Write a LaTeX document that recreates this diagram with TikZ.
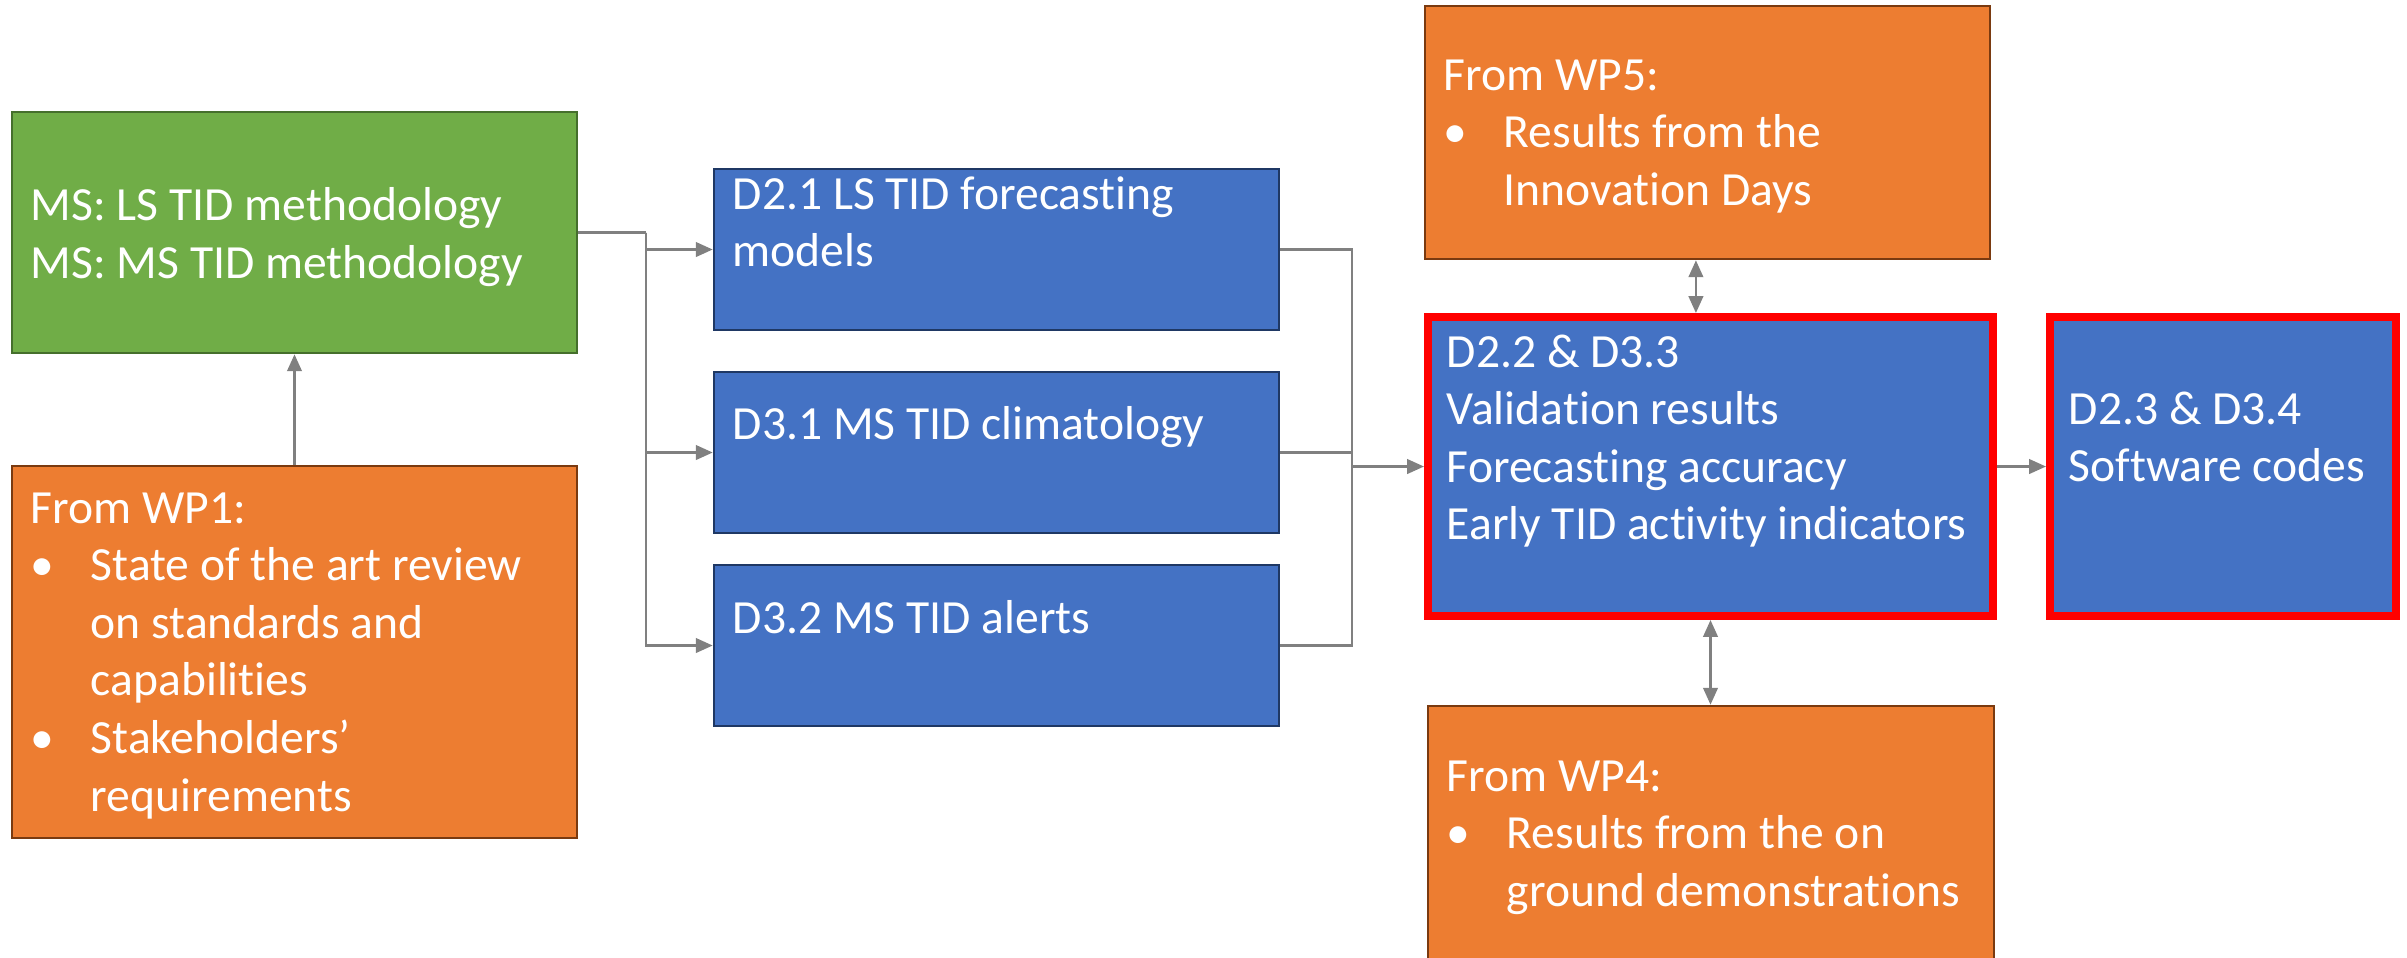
\documentclass[tikz,border=0pt]{standalone}
\usepackage{fontspec}
\setmainfont{Carlito}[Ligatures=CommonOff]
\usetikzlibrary{arrows.meta}

\definecolor{boxgreen}{HTML}{70AD47}
\definecolor{greenline}{HTML}{456F2C}
\definecolor{boxorange}{HTML}{ED7D31}
\definecolor{orangeline}{HTML}{7A3A10}
\definecolor{boxblue}{HTML}{4472C4}
\definecolor{blueline}{HTML}{1F3864}
\definecolor{hilite}{HTML}{FF0000}
\definecolor{wirecol}{HTML}{808080}

% bullet with hanging indent, continuation indent, and a top-aligned block of lines
\newcommand\bul{\makebox[15pt][l]{\textbullet}}
\newcommand\ind{\hspace*{15pt}}
\newcommand\lines[1]{\begin{tabular}[t]{@{}l@{}}#1\end{tabular}}

\begin{document}
\begin{tikzpicture}[x=0.25pt,y=-0.25pt,
  box/.style={rectangle, draw, line width=0.65pt, inner sep=0pt},
  gbox/.style={box, fill=boxgreen, draw=greenline},
  obox/.style={box, fill=boxorange, draw=orangeline},
  bbox/.style={box, fill=boxblue, draw=blueline},
  rbox/.style={box, fill=boxblue, draw=hilite, line width=2pt},
  txt/.style={anchor=base west, inner sep=0pt, text=white,
              font=\fontsize{11.9pt}{14.4pt}\selectfont},
  conn/.style={draw=wirecol, line width=0.65pt},
  arr/.style={conn, -{Triangle[length=4.2pt,width=3.6pt]}},
  darr/.style={conn, {Triangle[length=4.2pt,width=3.6pt]}-{Triangle[length=4.2pt,width=3.6pt]}},
]
\clip (0,0) rectangle (2407,957);
\fill[white] (0,0) rectangle (2407,957);

% boxes
\node[gbox, minimum width=141.25pt, minimum height=60.25pt] (green) at (294.5,232.5) {};
\node[obox, minimum width=141.25pt, minimum height=93pt]    (wp1)   at (294.5,652) {};
\node[bbox, minimum width=141.25pt, minimum height=40.25pt] (d21)   at (996.5,249.5) {};
\node[bbox, minimum width=141.25pt, minimum height=40.25pt] (d31)   at (996.5,452.5) {};
\node[bbox, minimum width=141.25pt, minimum height=40.25pt] (d32)   at (996.5,645.5) {};
\node[obox, minimum width=141.25pt, minimum height=63.25pt] (wp5)   at (1707.5,132.5) {};
\node[rbox, minimum width=141.25pt, minimum height=74.75pt] (d22)   at (1710.5,466.5) {};
\node[rbox, minimum width=86.5pt,   minimum height=74.75pt] (d23)   at (2223,466.5) {};
\node[obox, minimum width=141.5pt,  minimum height=73.5pt]  (wp4)   at (1711,853) {};

% texts
\node[txt] (tgreen) at (30,220.7) {\lines{MS: LS TID methodology\\ MS: MS TID methodology}};
\node[txt] (twp1) at (30,523) {\lines{From WP1:\\ \bul State of the art review\\ \ind on standards and\\ \ind capabilities\\ \bul Stakeholders’\\ \ind requirements}};
\node[txt] (td21) at (732,209) {\lines{D2.1 LS TID forecasting\\ models}};
\node[txt] (td31) at (732,439.5) {\lines{D3.1 MS TID climatology}};
\node[txt] (td32) at (732,633) {\lines{D3.2 MS TID alerts}};
\node[txt] (twp5) at (1443,90) {\lines{From WP5:\\ \bul Results from the\\ \ind Innovation Days}};
\node[txt] (td22) at (1446,367) {\lines{D2.2 \& D3.3\\ Validation results\\ Forecasting accuracy\\ Early TID activity indicators}};
\node[txt] (td23) at (2068,424) {\lines{D2.3 \& D3.4\\ Software codes}};
\node[txt] (twp4) at (1446,791) {\lines{From WP4:\\ \bul Results from the on\\ \ind ground demonstrations}};

% connectors
\coordinate (sp) at (646,232.5);
\coordinate (jn) at (1352,466.5);
\draw[conn] (green.east) -- (sp);
\draw[arr] (sp) |- (d21.west);
\draw[arr] (sp) |- (d31.west);
\draw[arr] (sp) |- (d32.west);
\draw[conn] (d21.east) -| (jn);
\draw[conn] (d31.east) -| (jn);
\draw[conn] (d32.east) -| (jn);
\draw[arr] (jn) -- (d22.west);
\draw[arr] (wp1.north) -- (green.south);
\draw[darr] ([xshift=-2.9pt]wp5.south) -- ([xshift=-2.9pt]wp5.south |- d22.north);
\draw[darr] (d22.south) -- (d22.south |- wp4.north);
\draw[arr] (d22.east) -- (d23.west);
\end{tikzpicture}
\end{document}
